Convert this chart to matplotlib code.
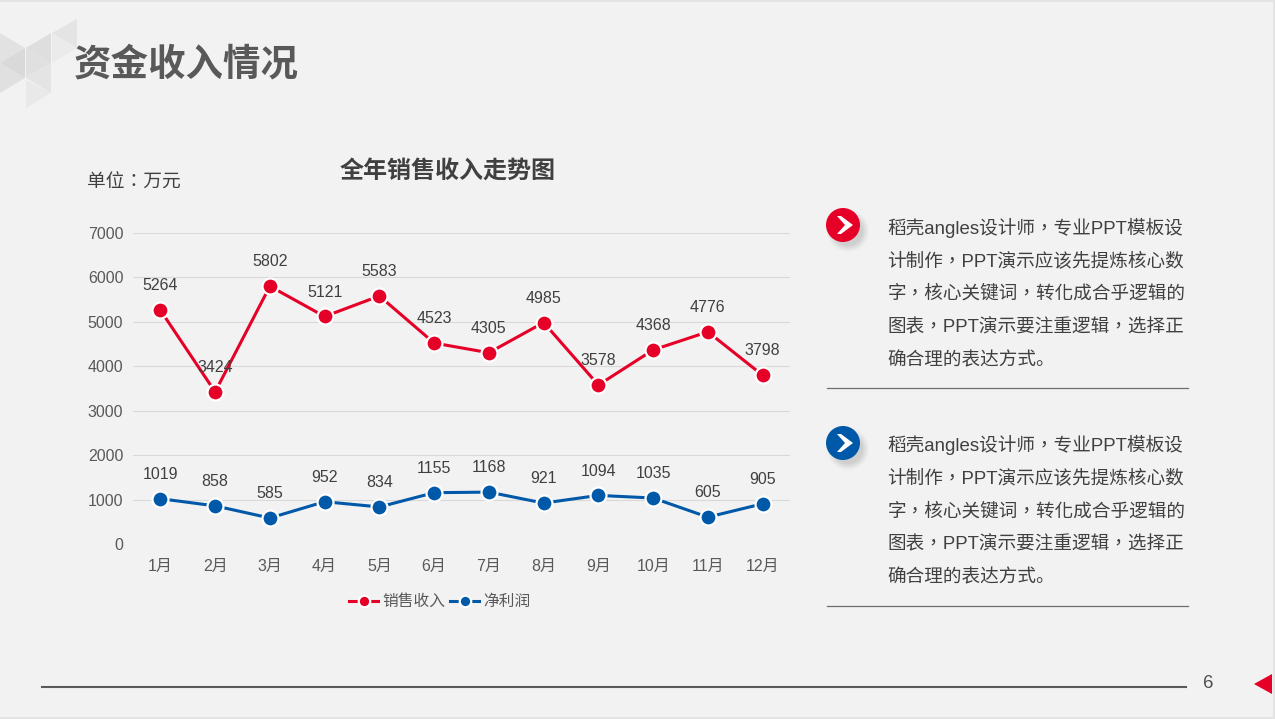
import matplotlib
matplotlib.use("Agg")
import matplotlib.pyplot as plt
from matplotlib.patches import Circle, Polygon

# TC has centred full-width punctuation, like the reference
FONT_SC = ['Liberation Sans', 'Noto Sans CJK SC', 'DejaVu Sans']
FONT_TC = ['Liberation Sans', 'Noto Sans CJK TC', 'DejaVu Sans']
plt.rcParams['font.family'] = FONT_SC

months = ["1月", "2月", "3月", "4月", "5月", "6月", "7月", "8月", "9月", "10月", "11月", "12月"]
sales = [5264, 3424, 5802, 5121, 5583, 4523, 4305, 4985, 3578, 4368, 4776, 3798]
profit = [1019, 858, 585, 952, 834, 1155, 1168, 921, 1094, 1035, 605, 905]
y_ticks = [0, 1000, 2000, 3000, 4000, 5000, 6000, 7000]
body_lines = [
    "稻壳angles设计师，专业PPT模板设",
    "计制作，PPT演示应该先提炼核心数",
    "字，核心关键词，转化成合乎逻辑的",
    "图表，PPT演示要注重逻辑，选择正",
    "确合理的表达方式。",
]

W, H = 1275, 719
RED = "#e60027"
BLUE = "#0058a8"
BG = "#f2f2f2"

fig = plt.figure(figsize=(W / 100, H / 100), dpi=100, facecolor=BG)

# --- full-slide layer in pixel coordinates ---
bg = fig.add_axes([0, 0, 1, 1])
bg.set_xlim(0, W)
bg.set_ylim(H, 0)
bg.axis("off")

bg.fill_between([0, W], 0, 2, color="#e4e4e4", lw=0)
bg.fill_between([0, W], H - 2, H, color="#e4e4e4", lw=0)
bg.fill_between([W - 2, W], 0, H, color="#e4e4e4", lw=0)

# corner triangles
triangles = [
    ([(77, 19), (52, 33), (77, 48)], "#e4e4e4"),
    ([(52, 33), (52, 63), (77, 48)], "#ebebeb"),
    ([(26, 48), (51, 33), (51, 63)], "#dedede"),
    ([(0, 33), (25, 48), (0, 63)], "#e2e2e2"),
    ([(0, 63), (25, 48), (25, 78)], "#d9d9d9"),
    ([(26, 48), (51, 63), (26, 78)], "#e0e0e0"),
    ([(0, 93), (25, 78), (0, 63)], "#e0e0e0"),
    ([(26, 78), (51, 63), (51, 93)], "#e4e4e4"),
    ([(26, 80), (51, 93), (26, 108)], "#e9e9e9"),
]
for pts, c in triangles:
    bg.add_patch(Polygon(pts, closed=True, fc=c, ec="none"))

bg.text(74, 66, "资金收入情况", fontsize=27, fontweight="bold", color="#595959", va="center")
bg.text(87, 183, "单位：万元", fontsize=13.5, color="#404040", va="center", family=FONT_TC)
bg.text(448, 171, "全年销售收入走势图", fontsize=17.3, fontweight="bold", color="#404040",
        ha="center", va="center")


def bullet(cx, cy, color):
    # soft shadow, then disc and chevron
    for r, a in zip([21, 19.5, 18, 16.5, 15], [0.04, 0.05, 0.06, 0.07, 0.08]):
        bg.add_patch(Circle((cx + 5, cy + 6), r, fc="#777777", ec="none", alpha=a))
    bg.add_patch(Circle((cx, cy), 17, fc=color, ec="none"))
    bg.add_patch(Polygon([(cx - 6, cy - 9), (cx - 2, cy - 9), (cx + 10, cy), (cx - 2, cy + 9),
                          (cx - 6, cy + 9), (cx + 2, cy)], closed=True, fc="white", ec="none"))


bullet(843, 225, RED)
bullet(843, 443, BLUE)

for top_y, rule_y in [(227.5, 388), (445, 606)]:
    for i, line in enumerate(body_lines):
        bg.text(887.5, top_y + i * 33.3, line, fontsize=13.4, color="#404040", va="center",
                family=FONT_SC if i == 4 else FONT_TC)
    bg.plot([827, 1188], [rule_y, rule_y], color="#6e6e6e", lw=0.9)

bg.plot([42, 1186], [687, 687], color="#595959", lw=1.5)
bg.text(1208, 684, "6", fontsize=13.5, color="#505050", ha="center", va="center")
bg.add_patch(Polygon([(1254, 684), (1272, 674), (1272, 694)], closed=True, fc=RED, ec="none"))

# --- chart ---
left, right, top, bottom = 133, 790, 233, 544
ax = fig.add_axes([left / W, 1 - bottom / H, (right - left) / W, (bottom - top) / H])
ax.patch.set_alpha(0)
x = list(range(len(months)))

ax.plot(x, sales, color=RED, lw=2.2, marker="o", ms=11.5, mfc=RED, mec="white", mew=1.6,
        label="销售收入", clip_on=False, zorder=3)
ax.plot(x, profit, color=BLUE, lw=2.2, marker="o", ms=11.5, mfc=BLUE, mec="white", mew=1.6,
        label="净利润", clip_on=False, zorder=3)

for series in (sales, profit):
    for xi, v in zip(x, series):
        ax.annotate(str(v), (xi, v), xytext=(0, 17.5), textcoords="offset points", ha="center",
                    va="center", fontsize=11.5, color="#404040", zorder=4)

ax.set_xlim(-0.5, 11.5)
ax.set_ylim(0, 7000)
ax.set_xticks(x)
ax.set_xticklabels(months)
ax.set_yticks(y_ticks)
ax.tick_params(axis="both", length=0, labelsize=11.5, labelcolor="#595959")
ax.tick_params(axis="x", pad=10.5)
ax.tick_params(axis="y", pad=7)
ax.grid(axis="y", color="#d9d9d9", lw=0.8)
ax.set_axisbelow(True)
for s in ax.spines.values():
    s.set_visible(False)

ax.legend(loc="center", bbox_to_anchor=(0.467, -0.185), ncol=2, frameon=False, fontsize=11.3,
          labelcolor="#595959", markerscale=0.72, handlelength=1.85, handletextpad=0.25,
          columnspacing=0.3)

fig.savefig("out.png", dpi=100, facecolor=BG)
